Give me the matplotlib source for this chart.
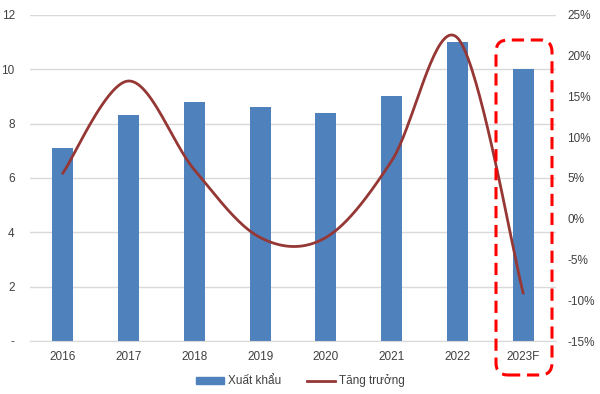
import matplotlib.pyplot as plt
import numpy as np
from matplotlib.patches import FancyBboxPatch, Patch
from matplotlib.lines import Line2D

plt.rcParams['font.family'] = ['Liberation Sans', 'DejaVu Sans']

# Données
annees = ['2016', '2017', '2018', '2019', '2020', '2021', '2022', '2023F']
xuat_khau = [7.1, 8.3, 8.8, 8.6, 8.4, 9.0, 11.0, 10.0]
tang_truong = [5.6, 16.9, 6.0, -2.3, -2.3, 7.1, 22.2, -9.1]  # en %

bleu = '#4F81BD'
rouge = '#953735'
gris_txt = '#404040'
gris_grille = '#D9D9D9'


def lisser(x, y, n=40):
    # courbe lissée type Excel (Bezier / Catmull-Rom)
    x = np.asarray(x, float)
    y = np.asarray(y, float)
    px = np.concatenate([[x[0]], x, [x[-1]]])
    py = np.concatenate([[y[0]], y, [y[-1]]])
    xs, ys = [], []
    t = np.linspace(0, 1, n)
    for i in range(1, len(px) - 2):
        p0 = np.array([px[i], py[i]])
        p3 = np.array([px[i + 1], py[i + 1]])
        p1 = p0 + (np.array([px[i + 1], py[i + 1]]) - np.array([px[i - 1], py[i - 1]])) / 6
        p2 = p3 - (np.array([px[i + 2], py[i + 2]]) - np.array([px[i], py[i]])) / 6
        b = ((1 - t) ** 3)[:, None] * p0 + (3 * (1 - t) ** 2 * t)[:, None] * p1 \
            + (3 * (1 - t) * t ** 2)[:, None] * p2 + (t ** 3)[:, None] * p3
        xs.extend(b[:, 0])
        ys.extend(b[:, 1])
    return np.array(xs), np.array(ys)


fig = plt.figure(figsize=(6, 3.94), dpi=100)
ax = fig.add_axes([0.05, 0.1345, 0.8767, 0.8275])
pos = np.arange(len(annees))

ax.bar(pos, xuat_khau, width=0.32, color=bleu, zorder=2)
ax.set_xlim(-0.5, len(annees) - 0.5)
ax.set_ylim(0, 12)
ax.set_yticks(range(0, 13, 2))
ax.set_yticklabels(['-' if v == 0 else str(v) for v in range(0, 13, 2)])
ax.set_xticks(pos)
ax.set_xticklabels(annees)
ax.grid(axis='y', color=gris_grille, linewidth=1, zorder=0)
for s in ['top', 'right', 'left']:
    ax.spines[s].set_visible(False)
ax.spines['bottom'].set_color(gris_grille)
ax.tick_params(length=0, labelsize=8.5, colors=gris_txt)
ax.tick_params(axis='x', pad=7)
ax.tick_params(axis='y', pad=11)

ax2 = ax.twinx()
lx, ly = lisser(pos, tang_truong)
ax2.plot(lx, ly, color=rouge, linewidth=2, zorder=3)
ax2.set_ylim(-15, 25)
ax2.set_yticks(range(-15, 26, 5))
ax2.set_yticklabels([f'{v}%' for v in range(-15, 26, 5)])
for s in ax2.spines.values():
    s.set_visible(False)
ax2.tick_params(length=0, labelsize=8.5, colors=gris_txt, pad=8)

# cadre pointillé autour de 2023F
cadre = FancyBboxPatch((4.96, 0.19), 0.56, 3.35,
                       boxstyle='round,pad=0,rounding_size=0.12',
                       transform=fig.dpi_scale_trans, fill=False,
                       edgecolor='#FF0000', linewidth=2.2,
                       linestyle=(0, (4, 2.2)), clip_on=False)
fig.patches.append(cadre)

handles = [Patch(color=bleu, label='Xuất khẩu'),
           Line2D([0], [0], color=rouge, linewidth=2, label='Tăng trưởng')]
fig.legend(handles=handles, loc='center', bbox_to_anchor=(0.5, 0.033),
           ncol=2, frameon=False, fontsize=8.5, handlelength=2.4,
           handleheight=0.5, columnspacing=2.2, handletextpad=0.3,
           labelcolor=gris_txt)

fig.savefig('out.png', dpi=100)
